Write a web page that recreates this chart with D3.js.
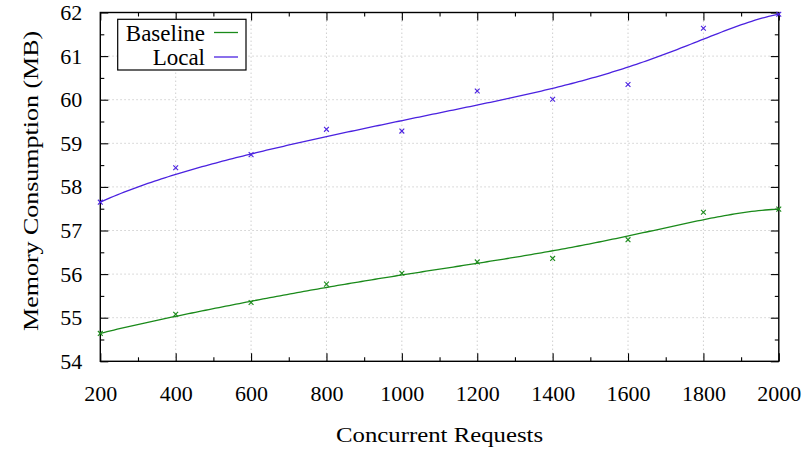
<!DOCTYPE html>
<html>
<head>
<meta charset="utf-8">
<script src="https://cdn.jsdelivr.net/npm/d3@7"></script>
<style>
  html, body { margin: 0; padding: 0; background: #fff; }
  svg { display: block; }
  text { font-family: "Liberation Serif", "Times New Roman", serif; fill: #000; }
</style>
</head>
<body>
<script>
// ---- data ----
const requests = [200, 400, 600, 800, 1000, 1200, 1400, 1600, 1800, 2000];
const baseline = [54.64, 55.08, 55.35, 55.77, 56.02, 56.28, 56.36, 56.79, 57.42, 57.49];
const local    = [57.65, 58.44, 58.74, 59.32, 59.28, 60.20, 60.01, 60.35, 61.64, 61.96];
const seriesNames = ["Baseline", "Local"];
const xTicks = [200, 400, 600, 800, 1000, 1200, 1400, 1600, 1800, 2000];
const yTicks = [54, 55, 56, 57, 58, 59, 60, 61, 62];
const xMinorTicks = [300, 500, 700, 900, 1100, 1300, 1500, 1700, 1900];
const yMinorTicks = [54.5, 55.5, 56.5, 57.5, 58.5, 59.5, 60.5, 61.5];
const xTitle = "Concurrent Requests";
const yTitle = "Memory Consumption (MB)";

const colors = { Baseline: "#1a8a1a", Local: "#4b22e0" };

const W = 805, H = 455;
const L = 100.3, R = 778.8, T = 12.5, B = 361.3;

const svg = d3.select("body").append("svg").attr("width", W).attr("height", H);

const x = d3.scaleLinear().domain([200, 2000]).range([L, R]);
const y = d3.scaleLinear().domain([54, 62]).range([B, T]);

// grid
const grid = svg.append("g").attr("stroke", "#cfcfcf").attr("stroke-width", 1)
  .attr("stroke-dasharray", "1.5,2.5");
xTicks.slice(1, -1).forEach(v => grid.append("line")
  .attr("x1", x(v)).attr("x2", x(v)).attr("y1", T).attr("y2", B));
yTicks.slice(1, -1).forEach(v => grid.append("line")
  .attr("x1", L).attr("x2", R).attr("y1", y(v)).attr("y2", y(v)));

// axes via d3 (inward ticks)
const fs = 22;
const xAxisB = d3.axisBottom(x).tickValues(xTicks).tickSize(-8).tickPadding(24).tickFormat(d3.format("d"));
svg.append("g").attr("transform", `translate(0,${B})`).call(xAxisB);
svg.append("g").attr("transform", `translate(0,${B})`).call(d3.axisBottom(x).tickValues(xMinorTicks).tickSize(-4).tickFormat(""));
svg.append("g").attr("transform", `translate(0,${T})`).call(d3.axisTop(x).tickValues(xTicks).tickSize(-8).tickFormat(""));
svg.append("g").attr("transform", `translate(0,${T})`).call(d3.axisTop(x).tickValues(xMinorTicks).tickSize(-4).tickFormat(""));

svg.append("g").attr("transform", `translate(${L},0)`)
  .call(d3.axisLeft(y).tickValues(yTicks).tickSize(-8).tickPadding(18).tickFormat(d3.format("d")));
svg.append("g").attr("transform", `translate(${L},0)`).call(d3.axisLeft(y).tickValues(yMinorTicks).tickSize(-4).tickFormat(""));
svg.append("g").attr("transform", `translate(${R},0)`).call(d3.axisRight(y).tickValues(yTicks).tickSize(-8).tickFormat(""));
svg.append("g").attr("transform", `translate(${R},0)`).call(d3.axisRight(y).tickValues(yMinorTicks).tickSize(-4).tickFormat(""));

svg.selectAll(".domain").remove();
svg.selectAll(".tick line").attr("stroke", "#000").attr("stroke-width", 1.1);
svg.selectAll(".tick text").attr("font-family", "Liberation Serif, serif").attr("font-size", fs).attr("fill", "#000");

// frame
svg.append("rect").attr("x", L).attr("y", T).attr("width", R - L).attr("height", B - T)
  .attr("fill", "none").attr("stroke", "#000").attr("stroke-width", 1.4);

// bezier smoothing (gnuplot "smooth bezier") computed from the data
function bezier(xs, ys, n) {
  const out = [];
  for (let k = 0; k <= n; k++) {
    const t = k / n;
    let px = xs.slice(), py = ys.slice();
    for (let r = px.length - 1; r > 0; r--) {
      for (let i = 0; i < r; i++) {
        px[i] = (1 - t) * px[i] + t * px[i + 1];
        py[i] = (1 - t) * py[i] + t * py[i + 1];
      }
    }
    out.push([px[0], py[0]]);
  }
  return out;
}

const line = d3.line().x(d => x(d[0])).y(d => y(d[1]));
const seriesData = { Baseline: baseline, Local: local };

seriesNames.forEach(name => {
  const vals = seriesData[name];
  svg.append("path").datum(bezier(requests, vals, 200))
    .attr("d", line).attr("fill", "none").attr("stroke", colors[name]).attr("stroke-width", 1.3);
  const s = 2.4;
  const g = svg.append("g").attr("stroke", colors[name]).attr("stroke-width", 1.1);
  requests.forEach((r, i) => {
    const cx = x(r), cy = y(vals[i]);
    g.append("line").attr("x1", cx - s).attr("y1", cy - s).attr("x2", cx + s).attr("y2", cy + s);
    g.append("line").attr("x1", cx - s).attr("y1", cy + s).attr("x2", cx + s).attr("y2", cy - s);
  });
});

// legend
const lg = svg.append("g");
lg.append("rect").attr("x", 117.7).attr("y", 19.3).attr("width", 128.3).attr("height", 50.7)
  .attr("fill", "#fff").attr("stroke", "#000").attr("stroke-width", 1.2);
seriesNames.forEach((name, i) => {
  const cy = 32.5 + i * 24.5;
  lg.append("text").attr("x", 205).attr("y", cy).attr("dy", "0.35em")
    .attr("text-anchor", "end").attr("font-size", fs + 1).text(name);
  lg.append("line").attr("x1", 214).attr("x2", 238).attr("y1", cy).attr("y2", cy)
    .attr("stroke", colors[name]).attr("stroke-width", 1.3);
});

// titles
svg.append("text").attr("x", (L + R) / 2).attr("y", 442).attr("text-anchor", "middle")
  .attr("font-size", fs).attr("textLength", 207).attr("lengthAdjust", "spacingAndGlyphs").text(xTitle);
svg.append("text").attr("transform", `translate(38,${(T + B) / 2 - 6}) rotate(-90)`)
  .attr("text-anchor", "middle").attr("font-size", fs)
  .attr("textLength", 300).attr("lengthAdjust", "spacingAndGlyphs").text(yTitle);
</script>
</body>
</html>
